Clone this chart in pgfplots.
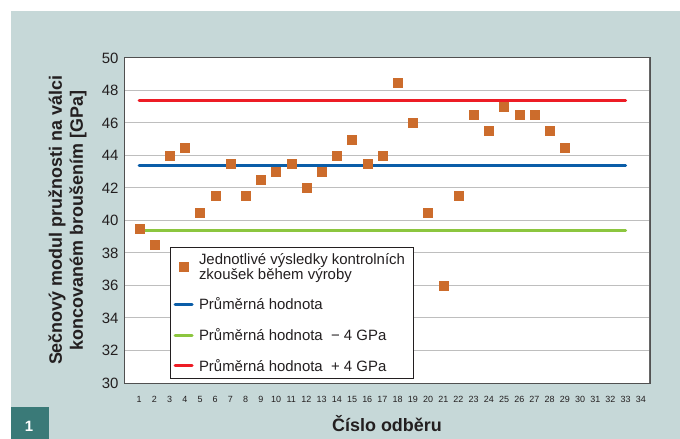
\documentclass[border=0pt]{standalone}
\usepackage{pgfplots}
\pgfplotsset{compat=1.18}
\usepackage{fontspec}
\setmainfont{Liberation Sans}
\definecolor{bgc}{RGB}{198,216,216}
\definecolor{tealc}{RGB}{58,122,120}
\definecolor{orc}{RGB}{204,108,44}
\definecolor{bluec}{RGB}{10,93,168}
\definecolor{greenc}{RGB}{140,198,63}
\definecolor{redc}{RGB}{237,28,37}
\definecolor{gridc}{RGB}{190,190,190}
\definecolor{axc}{RGB}{80,80,80}
\definecolor{txtc}{RGB}{35,31,32}
\begin{document}
\begin{tikzpicture}
\path[use as bounding box] (0bp,0bp) rectangle (680bp,439bp);
\fill[bgc] (11bp,0bp) rectangle (680bp,428bp);
\fill[tealc] (11bp,0bp) rectangle (49bp,32bp);
\node[text=white, font=\fontsize{15}{15}\selectfont\bfseries] at (29bp,13bp) {1};
\begin{axis}[
  at={(124bp,56bp)}, anchor=south west,
  width=526bp, height=325bp, scale only axis,
  xmin=0, xmax=34.6, ymin=30, ymax=50,
  xtick={1,...,34}, ytick={30,32,...,50},
  major tick length=0pt,
  ymajorgrids, grid style={draw=gridc, line width=1bp},
  axis line style={draw=axc, line width=1bp},
  axis background/.style={fill=white},
  /pgf/number format/assume math mode=true,
  yticklabel style={font=\fontsize{15}{15}\selectfont, text=txtc, xshift=-2bp},
  xticklabel style={font=\fontsize{9}{9}\selectfont, text=txtc, anchor=center, yshift=-16bp},
  ylabel={Sečnový modul pružnosti na válci\\koncovaném broušením [GPa]},
  ylabel style={at={(axis description cs:-0.1074,0.5)}, anchor=center, align=center,
    font=\fontsize{18}{21}\selectfont\bfseries, text=txtc},
  xlabel={Číslo odběru},
  xlabel style={at={(axis description cs:0.5,0)}, anchor=center, yshift=-41bp,
    font=\fontsize{18}{18}\selectfont\bfseries, text=txtc},
  reverse legend,
  legend cell align=left,
  legend style={at={(0.0875,0.4185)}, anchor=north west, draw=txtc, line width=1bp,
    fill=white, font=\fontsize{15}{15}\selectfont, text=txtc,
    cells={align=left}, row sep=13bp, inner xsep=3bp, inner ysep=4bp,
    nodes={inner ysep=2bp, inner xsep=5.5bp}},
]
\addplot[redc, line width=3bp, line cap=round,
  legend image code/.code={\draw[redc, line width=3bp, line cap=round] (0bp,0bp) -- (17bp,0bp);}]
  coordinates {(1,47.4) (33,47.4)};
\addlegendentry{Průměrná hodnota\ \ + 4 GPa}
\addplot[greenc, line width=3bp, line cap=round,
  legend image code/.code={\draw[greenc, line width=3bp, line cap=round] (0bp,0bp) -- (17bp,0bp);}]
  coordinates {(1,39.4) (33,39.4)};
\addlegendentry{Průměrná hodnota\ \ − 4 GPa}
\addplot[bluec, line width=3bp, line cap=round,
  legend image code/.code={\draw[bluec, line width=3bp, line cap=round] (0bp,0bp) -- (17bp,0bp);}]
  coordinates {(1,43.4) (33,43.4)};
\addlegendentry{Průměrná hodnota}
\addplot[only marks, mark=square*, mark size=4.5bp, draw=orc, fill=orc] coordinates {
(1,39.5) (2,38.5) (3,44.0) (4,44.5) (5,40.5) (6,41.5) (7,43.5) (8,41.5) (9,42.5) (10,43.0)
(11,43.5) (12,42.0) (13,43.0) (14,44.0) (15,45.0) (16,43.5) (17,44.0) (18,48.5) (19,46.0) (20,40.5)
(21,36.0) (22,41.5) (23,46.5) (24,45.5) (25,47.0) (26,46.5) (27,46.5) (28,45.5) (29,44.5)
};
\addlegendentry{Jednotlivé výsledky kontrolních\\zkoušek během výroby}
\draw[draw=black!60, line width=2.5bp] (rel axis cs:1,0) -- (rel axis cs:1,1);
\end{axis}
\end{tikzpicture}
\end{document}
